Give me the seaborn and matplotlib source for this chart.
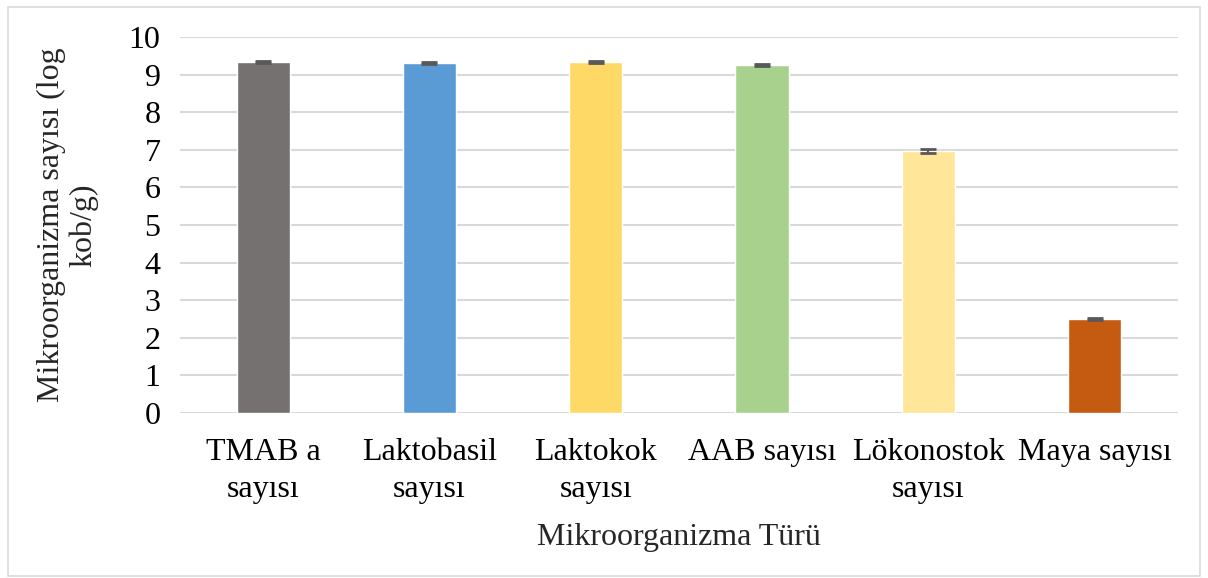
import pandas as pd
import seaborn as sns
import matplotlib.pyplot as plt
from matplotlib.patches import Rectangle

# Data
categories = ["TMAB a\nsayısı", "Laktobasil\nsayısı", "Laktokok\nsayısı",
              "AAB sayısı", "Lökonostok\nsayısı", "Maya sayısı"]
values = [9.33, 9.31, 9.34, 9.26, 6.97, 2.50]
errors = [0.02, 0.02, 0.02, 0.02, 0.05, 0.03]
colors = ["#767171", "#5B9BD5", "#FFD966", "#A9D18E", "#FFE699", "#C55A11"]

df = pd.DataFrame({"kategori": categories, "deger": values})

sns.set_style("white")
plt.rcParams['font.family'] = ['Liberation Serif', 'DejaVu Serif']

fig = plt.figure(figsize=(12.08, 5.78), dpi=100)
ax = fig.add_axes([0.149, 0.2855, 0.826, 0.6505])

sns.barplot(data=df, x="kategori", y="deger", hue="kategori", palette=colors,
            width=0.32, saturation=1, legend=False, ax=ax, zorder=3)
ax.errorbar(range(len(values)), values, yerr=errors, fmt="none",
            ecolor="#595959", elinewidth=1.5, capsize=6, capthick=2, zorder=4)

ax.set_xlim(-0.5, len(categories) - 0.5)
ax.set_ylim(0, 10)
ax.set_yticks(range(0, 11))
ax.yaxis.grid(True, color="#D9D9D9", linewidth=1.5, zorder=0)
ax.set_axisbelow(True)
for s in ax.spines.values():
    s.set_visible(False)
ax.tick_params(axis="both", length=0, labelsize=23, colors="black")
ax.tick_params(axis="y", pad=14)
ax.tick_params(axis="x", pad=18)
for lbl in ax.get_xticklabels():
    lbl.set_linespacing(1.35)
ax.set_xlabel("Mikroorganizma Türü", fontsize=23, labelpad=14)
ax.set_ylabel("Mikroorganizma sayısı (log\nkob/g)", fontsize=23, labelpad=22,
              multialignment="center", linespacing=1.1)

# outer chart border
fig.patches.append(Rectangle((0.007, 0.004), 0.986, 0.984, transform=fig.transFigure,
                             fill=False, edgecolor="#D9D9D9", linewidth=1.2))

fig.savefig("out.png", dpi=100)
